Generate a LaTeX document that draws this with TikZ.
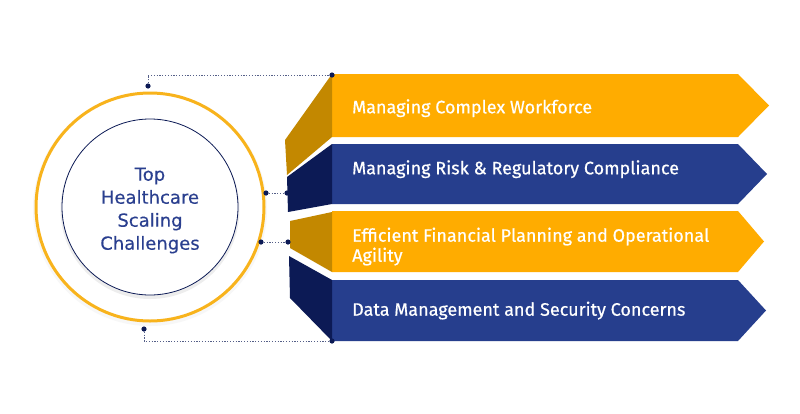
\documentclass[tikz,border=0pt]{standalone}
\usepackage{fontspec}
\setmainfont{Fira Sans}[FakeBold=0.5]
\newfontfamily\hubfont{DejaVu Sans}[FakeBold=0.3]
\usepackage{tikz}
\usetikzlibrary{calc}
\definecolor{amber}{HTML}{FFAC00}
\definecolor{amberdark}{HTML}{C38800}
\definecolor{royal}{HTML}{263E8D}
\definecolor{navy}{HTML}{0C1A55}
\definecolor{ringgold}{HTML}{F8B31C}
\definecolor{hubtext}{HTML}{2A3F8F}
\def\banner[#1](#2:#3:#4){\fill[#1] (332,#2) -- (738,#2) -- (#4,{(#2+#3)/2}) -- (738,#3) -- (332,#3) -- cycle;}
\def\face[#1](#2)(#3)(#4)(#5){\fill[#1] (#2) -- (#3) -- (#4) -- (#5) -- cycle;}
\tikzset{
  bannertext/.style={anchor=base west, text=white, font=\fontsize{18}{20}\selectfont, align=left, inner sep=0pt},
  dotline/.style={navy!70, line width=1pt, dash pattern=on 1.2pt off 1.6pt},
  pin/.style={fill=navy}
}

\begin{document}
\begin{tikzpicture}[x=1pt,y=-1pt]
			%%%%% START %%%%%
			
			\fill[white] (0,0) rectangle (800,413);
			
			\banner[amber](74:137:769)
			\banner[royal](144:204:767)
			\banner[amber](211:272:764)
			\banner[royal](280:341:766)
			
			\face[amberdark](332,74)(285,140)(287,175)(332,137)
			\face[navy](332,144)(287,177)(288,212)(332,204)
			\face[amberdark](332,212)(290,221)(290,248)(332,272)
			\face[navy](332,280)(289,256)(290,298)(332,341)
			
			\node[bannertext] (t1) at (352,113.3) {Managing Complex Workforce};
			\node[bannertext] (t2) at (352,174.3) {Managing Risk \& Regulatory Compliance};
			\node[bannertext] (t3) at (352,261.7) {Efficient Financial Planning and Operational\\Agility};
			\node[bannertext] (t4) at (352,315.7) {Data Management and Security Concerns};
			
			\fill[black!3] (150,209) circle (117);
			\node[circle, draw=ringgold, fill=white, line width=3pt, minimum size=228pt] (ring) at (150,207) {};
			\fill[black!7] (150,209.5) circle (89.5);
			\node[circle, draw=navy, fill=white, line width=0.8pt, minimum size=176pt] (hub) at (150,207) {};
			\node[align=center, text=hubtext, font=\hubfont\fontsize{18}{23}\selectfont] (hubtxt) at (150,210.5) {Top\\Healthcare\\Scaling\\Challenges};
			
			\coordinate (c1a) at (148,86);
			\coordinate (c1b) at (332,75);
			\coordinate (c2a) at (266,193);
			\coordinate (c2b) at (287,193);
			\coordinate (c3a) at (261,242);
			\coordinate (c3b) at (288,242);
			\coordinate (c4a) at (144,329);
			\coordinate (c4b) at (332,341);
			
			\draw[dotline] (c1a) |- (c1b);
			\draw[dotline] (c2a) -- (c2b);
			\draw[dotline] (c3a) -- (c3b);
			\draw[dotline] (c4a) |- (c4b);
			\foreach \p in {c1a,c1b,c2a,c2b,c3a,c3b,c4a,c4b}
			  \fill[pin] (\p) circle (2.6);
			
			%%%%% END %%%%%
\end{tikzpicture}
\end{document}
